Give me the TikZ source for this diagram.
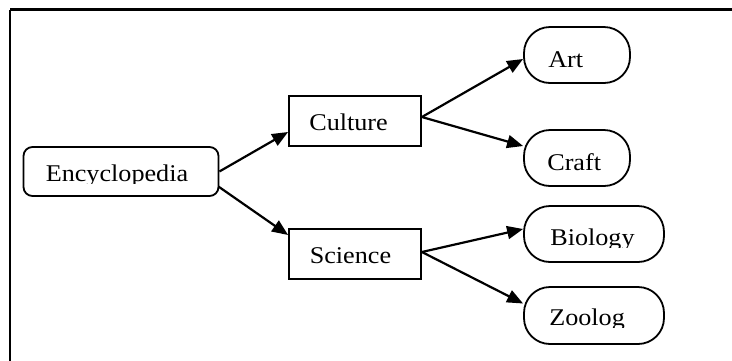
\documentclass[tikz,border=0pt]{standalone}
\usepackage{fontspec}
\setmainfont{Liberation Serif}
\usetikzlibrary{arrows.meta,calc}
\begin{document}
\begin{tikzpicture}[x=1pt,y=-1pt,
  frame/.style={line width=2.3pt},
  rbox/.style={draw,line width=1.8pt,inner sep=0pt,rounded corners=9pt},
  sbox/.style={draw,line width=1.8pt,inner sep=0pt},
  pill/.style={draw,line width=1.8pt,inner sep=0pt,rounded corners=26pt},
  lbl/.style={anchor=base west,inner sep=0pt,font=\fontsize{24}{28}\selectfont},
  link/.style={line width=2.2pt,-{Triangle[length=16pt,width=13pt]}}]
\useasboundingbox (0,0) rectangle (732,360);
% frame (only top and left edges are visible)
\draw[frame] (10,9.5) -- (733,9.5);
\draw[frame] (10,9.5) -- (10,361);
% boxes
\node[rbox,minimum width=195pt,minimum height=49pt] (enc) at (121,171.5) {};
\node[sbox,minimum width=132pt,minimum height=50pt] (cul) at (355,121) {};
\node[sbox,minimum width=132pt,minimum height=50pt] (sci) at (355,254) {};
\node[pill,minimum width=106pt,minimum height=56pt] (art) at (577,55) {};
\node[pill,minimum width=106pt,minimum height=56pt] (craft) at (577,158) {};
\node[pill,minimum width=140pt,minimum height=56pt] (bio) at (594,234) {};
\node[pill,minimum width=140pt,minimum height=57pt] (zoo) at (594,315.5) {};
% labels
\begin{scope}
\clip ($(enc.north west)+(2,2)$) rectangle ($(enc.north east)+(-2,37)$);
\node[lbl] (encT) at ($(enc.north west)+(23,35)$) {\scalebox{1.09}[1]{Encyclopedia}};
\end{scope}
\node[lbl] (culT) at ($(cul.north west)+(21,35)$) {\scalebox{1.09}[1]{Culture}};
\node[lbl] (sciT) at ($(sci.north west)+(21.5,35)$) {\scalebox{1.09}[1]{Science}};
\node[lbl] (artT) at ($(art.north west)+(25,41)$) {\scalebox{1.09}[1]{Art}};
\node[lbl] (craftT) at ($(craft.north west)+(24,41)$) {\scalebox{1.09}[1]{Craft}};
\begin{scope}
\clip ($(bio.north west)+(2,2)$) rectangle ($(bio.north east)+(-2,42.3)$);
\node[lbl] (bioT) at ($(bio.north west)+(27,40.7)$) {\scalebox{1.09}[1]{Biology}};
\end{scope}
\begin{scope}
\clip ($(zoo.north west)+(2,2)$) rectangle ($(zoo.north east)+(-2,41)$);
\node[lbl] (zooT) at ($(zoo.north west)+(26,39.7)$) {\scalebox{1.09}[1]{Zoolog}};
\end{scope}
% connectors
\draw[link] (enc.east) -- ([yshift=-11pt]cul.west);
\draw[link] ([xshift=-1pt,yshift=-15pt]enc.east) -- ([yshift=19pt]sci.west);
\draw[link] ([yshift=4pt]cul.east) -- ([yshift=-4pt]art.west);
\draw[link] ([yshift=4pt]cul.east) -- ([yshift=12pt]craft.west);
\draw[link] ([yshift=2pt]sci.east) -- ([yshift=5pt]bio.west);
\draw[link] ([yshift=2pt]sci.east) -- ([yshift=12pt]zoo.west);
\end{tikzpicture}
\end{document}
